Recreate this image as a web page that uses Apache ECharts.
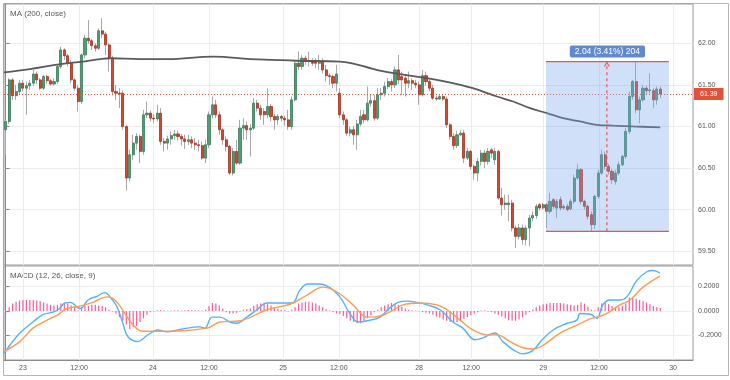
<!DOCTYPE html>
<html><head><meta charset="utf-8">
<script src="https://cdn.jsdelivr.net/npm/echarts@6/dist/echarts.min.js"></script>
<style>html,body{margin:0;padding:0;background:#fff}#c{width:730px;height:380px}</style>
</head><body><div id="c"></div>
<script>
// ---------- data ----------
const opens = [60.96,61.06,61.56,61.37,61.42,61.52,61.46,61.49,61.52,61.63,
61.56,61.46,61.60,61.55,61.51,61.54,61.72,61.92,61.85,61.76,
61.56,61.46,61.30,61.86,62.06,62.03,61.97,61.94,62.15,62.11,
61.98,61.82,61.42,61.40,61.40,61.00,60.38,60.66,60.80,60.88,
60.70,61.14,61.16,61.10,61.09,61.16,60.82,60.80,60.85,60.89,
60.91,60.88,60.85,60.82,60.84,60.80,60.78,60.77,60.62,60.78,
61.14,61.26,61.14,60.96,60.84,60.76,60.44,60.70,60.56,60.98,
61.01,60.96,60.98,61.28,61.22,61.18,61.14,61.24,61.12,61.08,
61.12,61.10,61.08,61.00,61.32,61.76,61.72,61.82,61.79,61.78,
61.79,61.76,61.78,61.68,61.61,61.60,61.52,61.40,61.14,61.08,
60.92,60.96,60.90,61.03,61.14,61.08,61.28,61.31,61.10,61.38,
61.40,61.48,61.54,61.50,61.68,61.60,61.58,61.52,61.55,61.52,
61.50,61.38,61.61,61.54,61.46,61.34,61.33,61.36,61.33,61.02,
60.88,60.77,60.90,60.92,60.62,60.70,60.52,60.44,60.58,60.68,
60.58,60.72,60.60,60.70,60.14,60.06,60.06,60.08,59.78,59.68,
59.78,59.64,59.78,59.90,59.93,60.06,60.02,60.06,59.98,60.12,
60.02,60.12,60.02,60.04,60.01,60.10,60.38,60.48,60.10,60.04,
59.94,59.82,60.16,60.44,60.66,60.52,60.46,60.34,60.44,60.54,
60.64,60.94,61.36,61.54,61.20,61.32,61.46,61.43,61.43,61.32,
61.45];
const closes = [61.06,61.56,61.37,61.42,61.52,61.46,61.49,61.52,61.63,61.56,
61.46,61.60,61.55,61.51,61.54,61.72,61.92,61.85,61.76,61.56,
61.46,61.30,61.86,62.06,62.03,61.97,61.94,62.15,62.11,61.98,
61.82,61.42,61.40,61.39,61.00,60.38,60.66,60.80,60.88,60.70,
61.14,61.16,61.10,61.09,61.16,60.82,60.80,60.85,60.89,60.91,
60.88,60.85,60.82,60.84,60.80,60.78,60.77,60.62,60.78,61.14,
61.26,61.14,60.96,60.84,60.76,60.44,60.70,60.56,60.98,61.01,
60.96,60.98,61.28,61.22,61.14,61.14,61.24,61.12,61.08,61.12,
61.10,61.08,61.00,61.32,61.76,61.72,61.82,61.79,61.78,61.76,
61.76,61.78,61.68,61.61,61.60,61.52,61.63,61.14,61.08,60.92,
60.96,60.90,61.03,61.12,61.08,61.28,61.31,61.10,61.38,61.40,
61.48,61.54,61.50,61.68,61.56,61.56,61.52,61.55,61.52,61.50,
61.38,61.61,61.54,61.46,61.34,61.33,61.36,61.33,61.02,60.88,
60.77,60.90,60.92,60.62,60.70,60.52,60.44,60.58,60.68,60.58,
60.70,60.68,60.70,60.14,60.06,60.08,60.08,59.78,59.68,59.78,
59.64,59.78,59.90,59.93,60.04,60.02,60.06,59.98,60.10,60.04,
60.10,60.02,60.04,60.00,60.10,60.38,60.48,60.10,60.04,59.92,
59.82,60.16,60.44,60.66,60.52,60.46,60.36,60.44,60.54,60.64,
60.94,61.36,61.54,61.20,61.32,61.46,61.43,61.44,61.32,61.45,
61.39];
const lows = [60.66,61.03,61.32,61.32,61.38,61.42,61.14,61.44,61.49,61.51,
61.44,61.44,61.51,61.49,61.49,61.51,61.69,61.80,61.72,61.52,
61.43,61.18,61.27,61.82,61.99,61.92,61.90,61.92,62.06,61.86,
61.66,61.39,61.32,61.22,60.96,60.23,60.34,60.60,60.72,60.56,
60.66,61.10,61.06,61.04,61.06,60.78,60.70,60.72,60.78,60.84,
60.83,60.77,60.73,60.78,60.74,60.72,60.70,60.60,60.56,60.74,
61.10,61.10,60.90,60.78,60.70,60.42,60.41,60.54,60.54,60.84,
60.84,60.64,60.96,61.18,61.08,61.02,61.10,61.06,60.96,61.02,
61.06,61.01,60.96,60.96,61.30,61.68,61.68,61.74,61.72,61.73,
61.70,61.68,61.64,61.54,61.50,61.46,61.42,61.10,61.02,60.89,
60.88,60.78,60.72,61.00,61.04,61.06,61.24,61.07,61.08,61.32,
61.36,61.45,61.42,61.46,61.51,61.38,61.36,61.46,61.44,61.46,
61.26,61.36,61.49,61.42,61.32,61.31,61.32,61.31,60.98,60.84,
60.72,60.74,60.88,60.56,60.60,60.48,60.36,60.34,60.53,60.50,
60.54,60.62,60.54,60.12,59.93,60.00,59.86,59.74,59.54,59.64,
59.58,59.57,59.56,59.86,59.89,59.99,60.00,59.78,59.95,60.01,
59.90,59.99,60.00,59.98,59.99,60.07,60.36,60.06,60.00,59.88,
59.74,59.77,60.13,60.42,60.48,60.42,60.31,60.30,60.41,60.52,
60.61,60.91,61.32,61.16,61.04,61.30,61.39,61.40,61.22,61.26,
61.34];
const highs = [61.08,61.58,61.58,61.50,61.56,61.56,61.54,61.56,61.68,61.66,
61.58,61.62,61.62,61.57,61.58,61.74,61.96,61.94,61.87,61.80,
61.58,61.50,61.88,62.10,62.28,62.05,62.00,62.18,62.30,62.14,
62.00,61.85,61.50,61.46,61.43,61.02,60.72,60.90,60.92,60.90,
61.20,61.30,61.19,61.15,61.26,61.22,60.86,60.89,60.94,60.96,
60.95,60.91,60.90,60.90,60.88,60.86,60.84,60.82,60.84,61.18,
61.36,61.32,61.18,60.98,60.88,60.78,60.74,60.84,61.08,61.10,
61.06,61.03,61.34,61.32,61.26,61.22,61.46,61.27,61.15,61.15,
61.14,61.13,61.20,61.36,61.80,61.90,61.86,61.85,61.90,61.82,
61.82,61.86,61.82,61.74,61.64,61.62,61.74,61.46,61.18,61.10,
61.00,61.01,61.08,61.20,61.20,61.48,61.38,61.38,61.46,61.46,
61.54,61.58,61.57,61.72,61.86,61.66,61.62,61.66,61.58,61.56,
61.54,61.68,61.66,61.57,61.50,61.37,61.38,61.38,61.36,61.04,
60.92,60.95,60.96,60.96,60.74,60.72,60.54,60.62,60.72,60.72,
60.74,60.74,60.74,60.72,60.26,60.18,60.18,60.12,59.81,59.83,
59.82,59.81,59.94,59.98,60.07,60.08,60.08,60.08,60.20,60.14,
60.13,60.16,60.06,60.07,60.13,60.42,60.55,60.50,60.12,60.06,
59.98,60.18,60.48,60.72,60.70,60.55,60.49,60.48,60.58,60.66,
60.98,61.42,61.56,61.78,61.36,61.50,61.49,61.64,61.46,61.48,
61.48];

// MA(200) line, read as knots: slot position -> value
const maSlots  = [-0.5,7,16,22.4,27.4,30.3,39,47,60.2,71,77.6,84.5,97,108.6,114.4,122.3,129.8,135.6,142.6,147.3,152.2,157.1,161.8,166.7,171.6,176.3,182.1,190];
const maValues = [61.65,61.69,61.75,61.78,61.81,61.82,61.81,61.81,61.84,61.81,61.80,61.79,61.78,61.67,61.63,61.58,61.52,61.46,61.36,61.30,61.22,61.16,61.10,61.06,61.02,61.01,61.00,60.99];

// MACD line (blue) knots
const macdSlots  = [-0.5,1.2,4.1,7.9,10.8,13.7,15.2,17.2,18.7,21.6,23.9,26.5,28.8,30.3,32.3,34,35.5,38.4,41,44.2,46.8,50.6,56.4,57.8,59.9,62.2,65.1,67.1,70,72.9,75.8,79.6,83.1,85.4,87.7,91.2,94.1,97,99.9,102.3,104.9,108.6,111.5,113.9,116.5,119.4,122.3,126.1,129.8,132.7,136.2,138.5,142,144.3,147.8,150.2,153.1,155.7,158.9,163,165.8,166.7,169.6,171.6,173.3,175.4,178.3,180.3,183.2,186.1,187.9,189.9];
const macdValues = [-0.345,-0.28,-0.18,-0.09,-0.03,-0.01,0.01,0.065,0.07,0.02,0.09,0.12,0.15,0.115,0.035,-0.10,-0.21,-0.25,-0.20,-0.155,-0.17,-0.15,-0.13,-0.14,-0.05,-0.05,-0.09,-0.10,-0.05,0.01,0.065,0.065,0.065,0.17,0.22,0.22,0.19,0.115,-0.02,-0.09,-0.08,-0.05,0.025,0.07,0.08,0.07,0.05,0.01,-0.09,-0.14,-0.235,-0.22,-0.18,-0.25,-0.325,-0.35,-0.32,-0.235,-0.155,-0.10,-0.075,-0.02,-0.025,-0.06,0.05,0.09,0.09,0.115,0.25,0.32,0.33,0.31];
// Signal line (orange) knots
const signalSlots  = [-0.5,4.1,7.9,12,15.2,17.8,21.6,25.3,29.4,31.7,34.6,37,39.8,46.8,58.4,62.2,68,75.8,82.5,87.5,92.1,96.2,100.8,104.9,106.6,110.7,115.3,120.3,125.2,128.1,131.9,135.6,139.7,142.6,146.4,150.2,153.1,156,160.9,165.8,169.6,171.6,174.5,178.3,181.2,185,189.9];
const signalValues = [-0.33,-0.25,-0.14,-0.075,-0.03,0.02,0.04,0.07,0.115,0.09,-0.02,-0.115,-0.165,-0.165,-0.14,-0.09,-0.08,0.01,0.055,0.13,0.195,0.155,0.05,-0.05,-0.05,-0.02,0.05,0.065,0.05,0.01,-0.075,-0.155,-0.195,-0.195,-0.25,-0.30,-0.31,-0.28,-0.18,-0.115,-0.065,-0.05,-0.02,0.05,0.09,0.195,0.285];
// MACD histogram, one per candle
const histValues = [-0.02,0.03,0.06,0.075,0.085,0.09,0.09,0.09,0.09,0.085,
0.08,0.07,0.06,0.05,0.045,0.05,0.06,0.065,0.06,0.045,
0.03,0.005,0.03,0.04,0.04,0.05,0.05,0.045,0.04,0.03,
0.01,-0.005,-0.02,-0.05,-0.08,-0.11,-0.15,-0.13,-0.12,-0.09,
-0.06,-0.03,-0.01,-0.005,0.005,0.008,0.003,0.002,0.004,0.005,
0.006,0.004,0.006,0.007,0.006,0.005,0.006,0.004,0.01,0.04,
0.065,0.06,0.045,0.02,-0.01,-0.02,-0.02,-0.015,-0.005,0.01,
0.015,0.02,0.04,0.055,0.06,0.06,0.055,0.045,0.03,0.02,
0.01,0.005,-0.005,0.01,0.03,0.06,0.07,0.075,0.075,0.07,
0.06,0.045,0.03,0.015,0.005,-0.01,-0.02,-0.025,-0.04,-0.06,
-0.08,-0.09,-0.1,-0.1,-0.08,-0.06,-0.035,-0.01,0.01,0.03,
0.045,0.055,0.065,0.06,0.05,0.035,0.02,0.01,0.005,0.003,
-0.005,-0.01,-0.015,-0.02,-0.03,-0.045,-0.055,-0.07,-0.08,-0.09,
-0.09,-0.09,-0.08,-0.065,-0.05,-0.035,-0.02,-0.01,0.003,0.005,
-0.005,-0.01,-0.02,-0.03,-0.045,-0.06,-0.075,-0.08,-0.08,-0.07,
-0.05,-0.03,-0.01,0.01,0.03,0.045,0.055,0.06,0.065,0.065,
0.065,0.065,0.06,0.055,0.05,0.045,0.05,0.07,0.06,0.035,
0.01,0.005,0.03,0.06,0.065,0.055,0.04,0.035,0.035,0.04,
0.06,0.11,0.105,0.1,0.09,0.08,0.07,0.055,0.04,0.03,
0.025];

// axis ticks
const slotCount = 200;
const tickSlots  = [5, 21.3, 42.7, 59, 80.5, 96.7, 120, 135.1, 156, 172.2, 193.7];
const tickLabels = ['23','12:00','24','12:00','25','12:00','28','12:00','29','12:00','30'];
const priceTicks = [59.5, 60, 60.5, 61, 61.5, 62];
const macdTicks  = [-0.2, 0, 0.2];
const lastPrice  = 61.39;
// price-range measurement
const rangeSlots  = [156.8, 192.5];
const rangePrices = [59.74, 61.78];
const arrowSlot   = 174.5;
const rangeLabel  = '2.04 (3.41%) 204';

// ---------- build ----------
const FONT = 'Liberation Sans';
const categories = Array.from({length: slotCount}, (_, i) => String(i));
const wickData = opens.map((o, i) => [o, closes[i], lows[i], highs[i]]);
const bodyData = opens.map((o, i) => [o, closes[i], Math.min(o, closes[i]), Math.max(o, closes[i])]);
const pairs = (xs, ys) => xs.map((x, i) => [x, ys[i]]);
const GRID_LINE = '#ececec';

const chart = echarts.init(document.getElementById('c'), null, {renderer: 'canvas'});
chart.setOption({
  animation: false,
  textStyle: {fontFamily: FONT},
  grid: [
    {left: 4, top: 4, width: 689, height: 261, show: true, borderColor: '#9a9a9a', borderWidth: 1},
    {left: 4, top: 266, width: 689, height: 94, show: true, borderColor: '#9a9a9a', borderWidth: 1}
  ],
  xAxis: [
    {gridIndex: 0, type: 'category', position: 'bottom', data: categories, boundaryGap: true, show: false},
    {gridIndex: 1, type: 'category', position: 'top', data: categories, boundaryGap: true, show: false},
    {gridIndex: 0, type: 'value', position: 'top', min: -0.5, max: slotCount - 0.5,
     axisLine: {show: false}, axisTick: {show: false, customValues: tickSlots},
     axisLabel: {show: false, customValues: tickSlots},
     splitLine: {show: true, lineStyle: {color: GRID_LINE}}},
    {gridIndex: 1, type: 'value', position: 'bottom', min: -0.5, max: slotCount - 0.5,
     axisLine: {show: true, lineStyle: {color: '#8a8a8a'}},
     axisTick: {show: false, customValues: tickSlots},
     axisLabel: {customValues: tickSlots, color: '#555', fontSize: 7, margin: 5,
       formatter: v => { let k = 0, d = 1e9; tickSlots.forEach((s, i) => { if (Math.abs(s - v) < d) { d = Math.abs(s - v); k = i; } }); return tickLabels[k]; }},
     splitLine: {show: true, lineStyle: {color: GRID_LINE}}}
  ],
  yAxis: [
    {gridIndex: 0, position: 'right', min: 59.335, max: 62.472,
     axisLine: {show: true, lineStyle: {color: '#8a8a8a'}},
     axisTick: {show: true, length: 4, lineStyle: {color: '#8a8a8a'}, customValues: priceTicks},
     axisLabel: {customValues: priceTicks, formatter: v => v.toFixed(2), color: '#555', fontSize: 7, margin: 5},
     splitLine: {show: true, lineStyle: {color: GRID_LINE}}},
    {gridIndex: 1, position: 'right', min: -0.40, max: 0.367,
     axisLine: {show: true, lineStyle: {color: '#8a8a8a'}},
     axisTick: {show: true, length: 4, lineStyle: {color: '#8a8a8a'}, customValues: macdTicks},
     axisLabel: {customValues: macdTicks, formatter: v => v.toFixed(4), color: '#555', fontSize: 7, margin: 5},
     splitLine: {show: true, lineStyle: {color: GRID_LINE}}}
  ],
  graphic: [
    {type: 'rect', shape: {x: 3.5, y: 3.5, width: 725, height: 372}, style: {fill: 'none', stroke: '#b5b5b5', lineWidth: 1}, silent: true, z: -1},
    {type: 'text', left: 10, top: 10, style: {text: 'MA (200, close)', fill: '#555', font: '8px "Liberation Sans"'}},
    {type: 'text', left: 10, top: 272, style: {text: 'MACD (12, 26, close, 9)', fill: '#555', font: '8px "Liberation Sans"'}}
  ],
  series: [
    {type: 'candlestick', name: 'wick', xAxisIndex: 0, yAxisIndex: 0, data: wickData, barWidth: 1,
     itemStyle: {color: '#a8a8a8', color0: '#a8a8a8', borderColor: '#a8a8a8', borderColor0: '#a8a8a8', borderWidth: 1}, z: 2},
    {type: 'candlestick', name: 'body', xAxisIndex: 0, yAxisIndex: 0, data: bodyData, barWidth: 2.6,
     itemStyle: {color: '#4f9d75', color0: '#d6452e', borderColor: '#3a7c5a', borderColor0: '#a33422', borderWidth: 0.8}, z: 3,
     markLine: {silent: true, symbol: ['none', 'none'], data: [{yAxis: lastPrice}],
       lineStyle: {type: [1, 2], color: '#e0533a', width: 1},
       label: {position: 'end', formatter: () => lastPrice.toFixed(2), backgroundColor: '#e0533a', color: '#fff',
               fontSize: 7, padding: [3, 6, 2, 6], distance: 1, fontFamily: FONT}}},
    {type: 'line', name: 'MA', xAxisIndex: 2, yAxisIndex: 0, data: pairs(maSlots, maValues), smooth: 0.4,
     symbol: 'none', lineStyle: {color: '#5a5a5a', width: 1.8}, z: 4},
    {type: 'custom', name: 'range', xAxisIndex: 2, yAxisIndex: 0, z: 10, silent: true,
     data: [[rangeSlots[0], rangeSlots[1], rangePrices[0], rangePrices[1], arrowSlot]],
     encode: {x: [0, 1, 4], y: [2, 3]},
     renderItem: (params, api) => {
       const a = api.coord([api.value(0), api.value(3)]);
       const b = api.coord([api.value(1), api.value(2)]);
       const ax = api.coord([api.value(4), api.value(3)])[0];
       const x0 = a[0], y0 = a[1], x1 = b[0], y1 = b[1];
       return {type: 'group', children: [
         {type: 'rect', shape: {x: x0, y: y0, width: x1 - x0, height: y1 - y0}, style: {fill: 'rgba(120,165,235,0.35)'}},
         {type: 'line', shape: {x1: ax, y1: y1, x2: ax, y2: y0 + 1}, style: {stroke: '#e8555a', lineWidth: 1.2, lineDash: [3, 3]}},
         {type: 'polyline', shape: {points: [[ax - 2.5, y0 + 5], [ax, y0 + 1], [ax + 2.5, y0 + 5]]}, style: {stroke: '#e8555a', lineWidth: 1.1, fill: 'none'}},
         {type: 'line', shape: {x1: x0, y1: y0, x2: x1, y2: y0}, style: {stroke: '#f25050', lineWidth: 1.2}},
         {type: 'line', shape: {x1: x0, y1: y1, x2: x1, y2: y1}, style: {stroke: '#f25050', lineWidth: 1.2}},
         {type: 'text', x: (x0 + x1) / 2, y: y0 - 10, style: {text: rangeLabel, fill: '#fff', font: '8.5px "Liberation Sans"',
           backgroundColor: '#6189cf', padding: [2, 5, 1, 5], borderRadius: 2, align: 'center', verticalAlign: 'middle'}}
       ]};
     }},
    {type: 'bar', name: 'hist', xAxisIndex: 1, yAxisIndex: 1, data: histValues, barWidth: 1.2,
     itemStyle: {color: '#f45c9b'}, z: 2},
    {type: 'line', name: 'MACD', xAxisIndex: 3, yAxisIndex: 1, data: pairs(macdSlots, macdValues), smooth: 0.4,
     symbol: 'none', lineStyle: {color: '#4fb2ff', width: 1.4}, z: 4},
    {type: 'line', name: 'Signal', xAxisIndex: 3, yAxisIndex: 1, data: pairs(signalSlots, signalValues), smooth: 0.4,
     symbol: 'none', lineStyle: {color: '#ff9a52', width: 1.4}, z: 4}
  ]
});
</script></body></html>
